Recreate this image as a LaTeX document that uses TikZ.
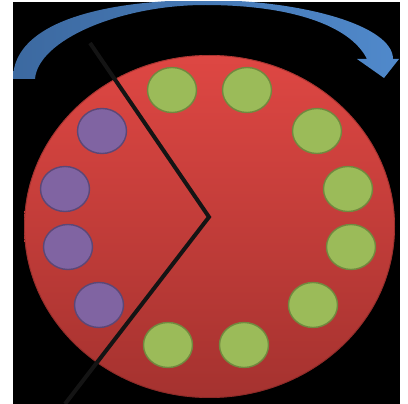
\documentclass[tikz,border=0pt]{standalone}
\usetikzlibrary{shapes.geometric}

\definecolor{diskTop}{HTML}{DE4743}
\definecolor{diskBottom}{HTML}{A5322F}
\definecolor{seatGreen}{HTML}{9BBB59}
\definecolor{seatGreenLine}{HTML}{71893F}
\definecolor{seatViolet}{HTML}{8064A2}
\definecolor{seatVioletLine}{HTML}{5C4776}
\definecolor{turnLeft}{HTML}{3C69A0}
\definecolor{turnRight}{HTML}{5089CB}

\begin{document}
\begin{tikzpicture}[x=1pt,y=-1pt,
  seat/.style={draw,ellipse,line width=1.4pt,minimum width=49pt,minimum height=45pt,inner sep=0pt},
  greenseat/.style={seat,fill=seatGreen,draw=seatGreenLine},
  violetseat/.style={seat,fill=seatViolet,draw=seatVioletLine},
  cutline/.style={line width=4pt,color=black!92}]
\useasboundingbox (0,0) rectangle (408,404);
\fill[white] (0,0) rectangle (408,404);
\fill[black] (13,2) rectangle (400,404);

% turning arrow over the table
\begin{scope}
\clip (13,2) rectangle (400,404);
\shade[left color=turnLeft,right color=turnRight]
  (13,79) .. controls (13,20) and (110,0) .. (205,0)
  .. controls (300,0) and (393,25) .. (393,59)
  -- (399,59) -- (384,78) -- (357,59) -- (367,59)
  .. controls (350,25) and (290,5) .. (205,5)
  .. controls (120,5) and (38,40) .. (35,79) -- cycle;
\end{scope}

% round table
\shade[top color=diskTop,bottom color=diskBottom]
  (209.5,226.5) ellipse[x radius=185.5pt,y radius=171.5pt];
\draw[diskBottom!70!black,line width=0.8pt,opacity=0.5]
  (209.5,226.5) ellipse[x radius=185pt,y radius=171pt];

% seats
\foreach \n/\x/\y in {g1/172/90,g2/247/90,g3/317/131,g4/348/189,g5/351/247,g6/313/305,g7/244/345,g8/168/345}
  \node[greenseat] (\n) at (\x,\y) {};
\foreach \n/\x/\y in {v1/102/131,v2/65/189,v3/68/247,v4/99/305}
  \node[violetseat] (\n) at (\x,\y) {};

% cut
\coordinate (cutA) at (90,43);
\coordinate (cutB) at (209,217);
\coordinate (cutC) at (65,404);
\draw[cutline] (cutA) -- (cutB) -- (cutC);
\end{tikzpicture}
\end{document}
